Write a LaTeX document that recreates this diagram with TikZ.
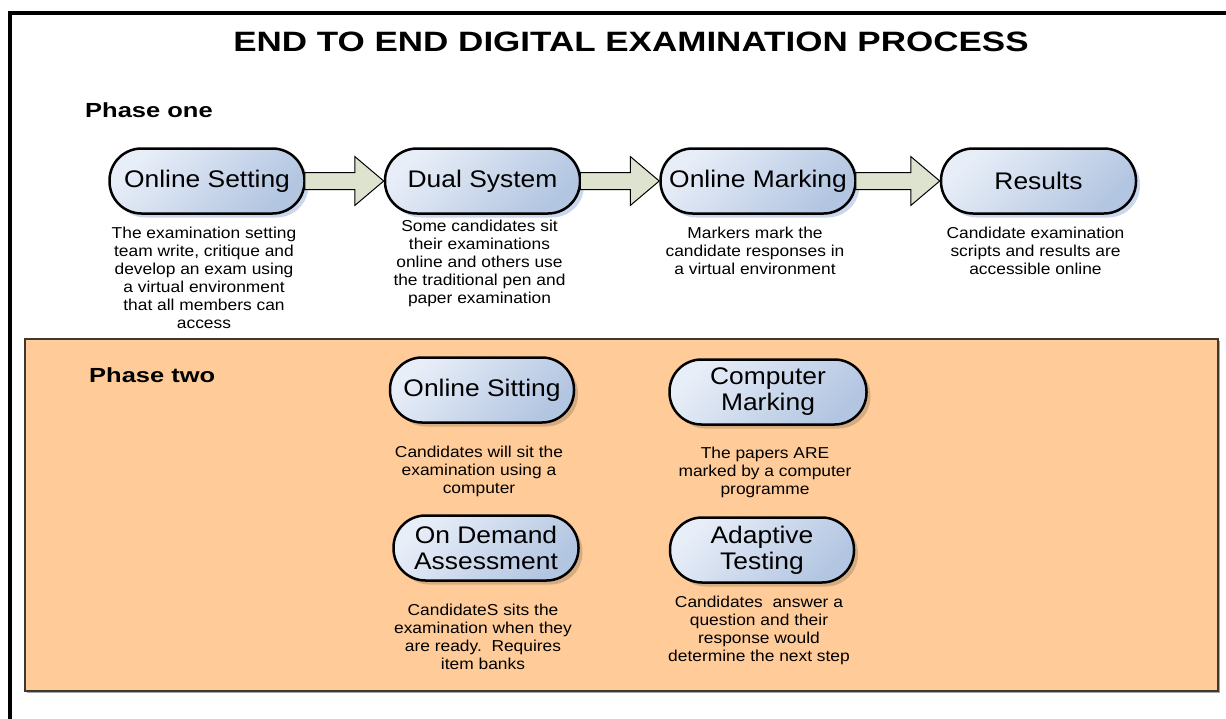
\documentclass[tikz,border=0pt]{standalone}
\usepackage{fontspec}
\setmainfont{Liberation Sans}[FakeStretch=1.1]
\newfontfamily\headfont{Liberation Sans}[FakeStretch=1.25]
\usetikzlibrary{positioning,shadows,calc}

\definecolor{pilltop}{RGB}{232,238,248}
\definecolor{pillbottom}{RGB}{178,197,225}
\definecolor{pillshadow}{RGB}{203,215,238}
\definecolor{arrowfill}{RGB}{221,227,206}
\definecolor{peach}{RGB}{255,204,153}
\definecolor{boxline}{RGB}{64,56,48}

\newcommand\blockarrow[2]{%
	\draw[flow] let \p1=(#1.east), \p2=(#2.west) in
	(\x1-1pt,\y1+8.5pt) -- (\x2-29pt,\y1+8.5pt) -- (\x2-29pt,\y1+24.5pt)
	-- (\x2,\y1) -- (\x2-29pt,\y1-24.5pt) -- (\x2-29pt,\y1-8.5pt)
	-- (\x1-1pt,\y1-8.5pt) -- cycle;}

\begin{document}
\begin{tikzpicture}[x=1pt,y=-1pt,
		pill/.style={draw,line width=2.5pt,rounded corners=32pt,minimum height=65pt,
			inner sep=2pt,align=center,font=\fontsize{24}{26}\selectfont,
			top color=pilltop,bottom color=pillbottom,shading angle=45},
		shadowone/.style={drop shadow={shadow xshift=4pt,shadow yshift=-4pt,fill=pillshadow,opacity=1}},
		shadowtwo/.style={drop shadow={shadow xshift=4pt,shadow yshift=-4pt,fill=black,opacity=0.16}},
		desc/.style={align=center,inner sep=0pt,xshift=-3pt,font=\fontsize{15.8}{18}\selectfont},
		heading/.style={anchor=base west,inner sep=0pt,font=\headfont\bfseries\fontsize{20.4}{24}\selectfont},
		flow/.style={draw,line width=1pt,fill=arrowfill,line join=miter},
		node distance=12pt and 78pt,
	]
	\useasboundingbox (0,0) rectangle (1226,718);
	\draw[line width=4pt] (1232,13) -| (10,724);
	\node[inner sep=0pt,anchor=base,font=\headfont\bfseries\fontsize{28}{32}\selectfont]
		(title) at (631,51) {END TO END DIGITAL EXAMINATION PROCESS};
	
	\node[heading] (phaseone) at (85,117) {Phase one};
	\node[pill,shadowone,minimum width=195pt] (setting) at (207,181) {Online Setting};
	\node[pill,shadowone,minimum width=195pt,right=78pt of setting] (dual) {Dual System};
	\node[pill,shadowone,minimum width=195pt,right=78pt of dual] (marking) {Online Marking};
	\node[pill,shadowone,minimum width=195pt,right=83pt of marking] (results) {Results};
	\blockarrow{setting}{dual}
	\blockarrow{dual}{marking}
	\blockarrow{marking}{results}
	
	\node[desc,below=12pt of setting] (settingtxt) {The examination setting\\team write, critique and\\develop an exam using\\a virtual environment\\that all members can\\access};
	\node[desc,below=5pt of dual] (dualtxt) {Some candidates sit\\their examinations\\online and others use\\the traditional pen and\\paper examination};
	\node[desc,below=12pt of marking] (markingtxt) {Markers mark the\\candidate responses in\\a virtual environment};
	\node[desc,below=12pt of results] (resultstxt) {Candidate examination\\scripts and results are\\accessible online};
	
	\draw[fill=peach,draw=boxline,line width=1.5pt,
		drop shadow={shadow xshift=1.5pt,shadow yshift=-1.5pt,fill=black!35,opacity=1}]
		(25,339) rectangle (1218,691);
	\node[heading] (phasetwo) at (89,382) {Phase two};
	\node[pill,shadowtwo,minimum width=184pt] (sitting) at (482,390) {Online Sitting};
	\node[pill,shadowtwo,minimum width=185pt] (demand) at (486,548) {On Demand\\Assessment};
	\node[pill,shadowtwo,minimum width=197pt] (compmark) at (768,392) {Computer\\Marking};
	\node[pill,shadowtwo,minimum width=184pt] (adaptive) at (762,550) {Adaptive\\Testing};
	
	\node[desc,below=22pt of sitting] (sittingtxt) {Candidates will sit the\\examination using a\\computer};
	\node[desc,below=22pt of demand] (demandtxt) {CandidateS sits the\\examination when they\\are ready.\ \ Requires\\item banks};
	\node[desc,below=21pt of compmark] (compmarktxt) {The papers ARE\\marked by a computer\\programme};
	\node[desc,below=12pt of adaptive] (adaptivetxt) {Candidates\ \ answer a\\question and their\\response would\\determine the next step};
\end{tikzpicture}
\end{document}
